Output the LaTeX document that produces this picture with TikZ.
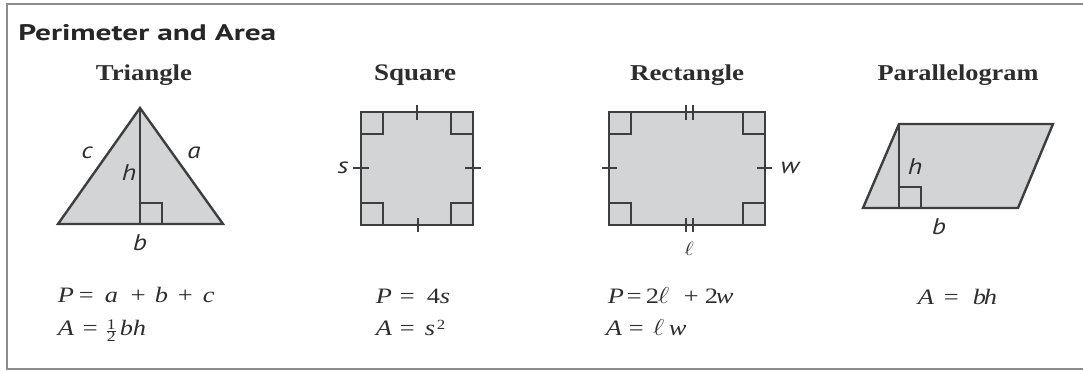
\documentclass[tikz,border=0pt]{standalone}
\usepackage{fontspec}
\usepackage{graphicx}
\setmainfont{Liberation Serif}
\newfontfamily\sansf{PT Sans}
\definecolor{shapefill}{RGB}{211,212,214}
\definecolor{edge}{RGB}{62,62,62}
\definecolor{frame}{RGB}{140,140,140}
\definecolor{ink}{RGB}{45,45,45}
\newlength\pxu \setlength\pxu{0.75pt}
\newcommand\fm[2]{\makebox[0pt][l]{\hspace{#1\pxu}\scalebox{1.2}[1]{#2}}}
\newcommand\hd[2]{\resizebox{#1\pxu}{11.8pt}{\bfseries #2}}
\newcommand\lb[1]{\scalebox{1.2}[1]{#1}}
\newcommand\half{{\fontsize{11}{11}\selectfont\nulldelimiterspace=0pt$\frac{\mbox{1}}{\mbox{2}}$}}
\newcommand\ellg{{\fontsize{17.5}{18}\selectfont$\ell$}}
\begin{document}
\begin{tikzpicture}[x=0.75pt,y=-0.75pt,
  geom/.style={draw=edge,fill=shapefill,line width=1.8pt,line join=miter},
  ramark/.style={draw=edge,line width=1.2pt},
  tickmark/.style={draw=edge,line width=1.2pt},
  heading/.style={anchor=base,inner sep=0pt,text=ink},
  lbl/.style={font=\sansf\itshape\fontsize{17}{19}\selectfont,text=ink,inner sep=0pt},
  formula/.style={font=\fontsize{16.5}{18}\selectfont,anchor=base west,inner sep=0pt,text=ink}]
\useasboundingbox (0,0) rectangle (1083,371);
% frame
\draw[frame,line width=1.5pt] (1090,4) -- (7,4) -- (7,369) -- (1090,369);
\node[anchor=base west,inner sep=0pt,text=black!85] (title) at (18,40) {\resizebox{193.5pt}{12pt}{\sansf\bfseries Perimeter and Area}};
% headings
\node[heading] (htri) at (144,80) {\hd{96}{Triangle}};
\node[heading] (hsq) at (415,80) {\hd{82}{Square}};
\node[heading] (hrect) at (687,80) {\hd{114}{Rectangle}};
\node[heading] (hpar) at (958,80) {\hd{161}{Parallelogram}};
% triangle
\coordinate (tA) at (58,224);
\coordinate (tB) at (223,224);
\coordinate (tC) at (140,108);
\coordinate (tH) at (140,224);
\draw[geom] (tA) -- (tB) -- (tC) -- cycle;
\draw[ramark] (tC) -- (tH);
\draw[ramark] (140,203) -- (162,203) -- (162,224);
\node[lbl] (lc) at (87,153) {\lb{c}};
\node[lbl] (la) at (194,153) {\lb{a}};
\node[lbl] (lh) at (129,173) {\lb{h}};
\node[lbl] (lb) at (140,243) {\lb{b}};
% square
\coordinate (sTL) at (361,112);
\coordinate (sBR) at (473,225);
\draw[geom] (sTL) rectangle (sBR);
\draw[ramark] (361,134) -- (383,134) -- (383,112);
\draw[ramark] (451,112) -- (451,134) -- (473,134);
\draw[ramark] (361,203) -- (383,203) -- (383,225);
\draw[ramark] (451,225) -- (451,203) -- (473,203);
\draw[tickmark] (417,105) -- (417,120);
\draw[tickmark] (418,218) -- (418,232);
\draw[tickmark] (353,168) -- (369,168);
\draw[tickmark] (465,168) -- (481,168);
\node[lbl] (ls) at (343,168) {\lb{s}};
% rectangle
\coordinate (rTL) at (609,112);
\coordinate (rBR) at (765,225);
\draw[geom] (rTL) rectangle (rBR);
\draw[ramark] (609,134) -- (631,134) -- (631,112);
\draw[ramark] (743,112) -- (743,134) -- (765,134);
\draw[ramark] (609,203) -- (631,203) -- (631,225);
\draw[ramark] (743,225) -- (743,203) -- (765,203);
\draw[tickmark] (686,105) -- (686,120) (693,105) -- (693,120);
\draw[tickmark] (686,218) -- (686,232) (693,218) -- (693,232);
\draw[tickmark] (602,168) -- (617,168);
\draw[tickmark] (757,168) -- (772,168);
\node[lbl] (lw) at (790,168) {\lb{w}};
\node[lbl,font=\fontsize{15}{18}\selectfont] (ll) at (689,249) {\lb{$\ell$}};
% parallelogram
\coordinate (pTL) at (899,124);
\coordinate (pTR) at (1053,124);
\coordinate (pBR) at (1018,208);
\coordinate (pBL) at (863,208);
\coordinate (pF) at (899,208);
\draw[geom] (pTL) -- (pTR) -- (pBR) -- (pBL) -- cycle;
\draw[ramark] (pTL) -- (pF);
\draw[ramark] (899,187) -- (921,187) -- (921,208);
\node[lbl] (ph) at (915,167) {\lb{h}};
\node[lbl] (pb) at (939,227) {\lb{b}};
% formulas
\node[formula] (f1) at (57,302) {\fm{0}{\textit{P}}\fm{21}{=}\fm{47}{\textit{a}}\fm{73}{+}\fm{97}{\textit{b}}\fm{120}{+}\fm{145}{\textit{c}}};
\node[formula] (f2) at (57,335) {\fm{0}{\textit{A}}\fm{25}{=}\fm{49}{\half}\fm{62}{\textit{b}}\fm{75}{\textit{h}}};
\node[formula] (f3) at (375,303) {\fm{0}{\textit{P}}\fm{24}{=}\fm{51}{4}\fm{64}{\textit{s}}};
\node[formula] (f4) at (375,335) {\fm{0}{\textit{A}}\fm{24}{=}\fm{49}{\textit{s}}\fm{61}{\raisebox{4.5pt}{\fontsize{10.5}{10}\selectfont 2}}};
\node[formula] (f5) at (607,303) {\fm{0}{\textit{P}}\fm{19}{=}\fm{38}{2}\fm{50}{\ellg}\fm{76}{+}\fm{97}{2}\fm{108}{\textit{w}}};
\node[formula] (f6) at (605,335) {\fm{0}{\textit{A}}\fm{23}{=}\fm{47}{\ellg}\fm{63}{\textit{w}}};
\node[formula] (f7) at (917,304) {\fm{0}{\textit{A}}\fm{26}{=}\fm{55}{\textit{b}}\fm{66}{\textit{h}}};
\end{tikzpicture}
\end{document}
